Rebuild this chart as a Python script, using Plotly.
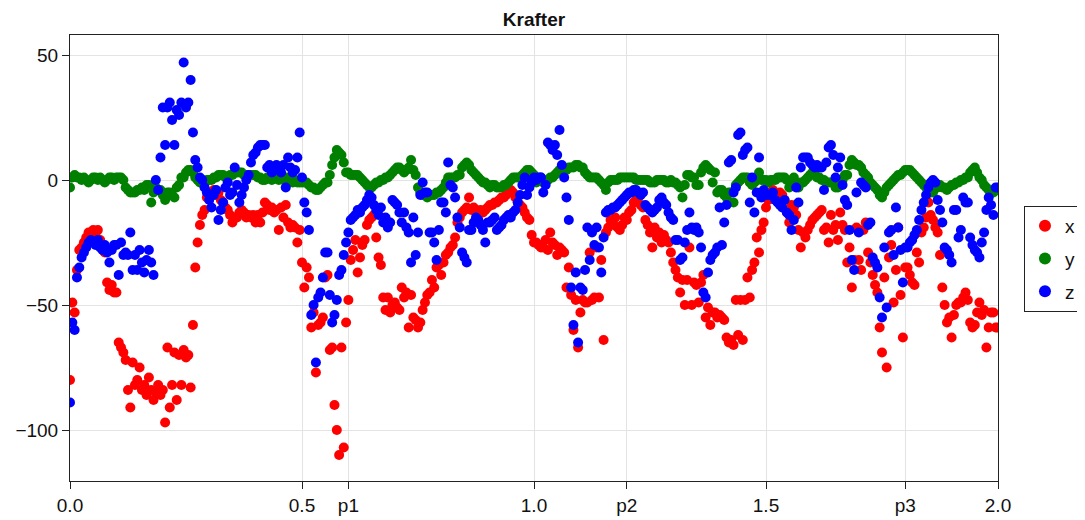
import numpy as np
import plotly.graph_objects as go

# time axis: 401 samples from 0 to 2
t = np.linspace(0.0, 2.0, 401)

fx = [
    -80,-49,-53,-36,-28,-27,-25,-23,-21,-21,-20,-22,-20,-24,-26,-29,-41,-44,-42,-45,
    -45,-65,-67,-69,-72,-84,-91,-73,-82,-80,-75,-84,-82,-86,-79,-84,-88,-85,-82,-86,
    -84,-97,-67,-91,-82,-69,-88,-70,-82,-68,-71,-70,-83,-58,-35,-25,-18,-14,-12,-7,
    -5,-5,-4,-6,-5,-8,-9,-11,-12,-14,-17,-15,-15,-13,-12,-13,-15,-14,-15,-14,
    -17,-14,-17,-13,-9,-10,-12,-11,-13,-12,-20,-11,-15,-10,-17,-19,-18,-19,-25,-20,
    -33,-43,-35,-39,-59,-53,-77,-58,-57,-55,-39,-38,-68,-67,-90,-100,-110,-67,-107,-57,
    -48,-32,-28,-24,-37,-31,-26,-24,-18,-16,-15,-14,-23,-31,-34,-47,-52,-47,-53,-50,
    -49,-51,-52,-43,-47,-45,-59,-46,-55,-56,-59,-57,-52,-49,-46,-45,-40,-43,-35,-34,
    -38,-33,-30,-29,-27,-26,-23,-17,-15,-13,-12,-11,-7,-12,-11,-12,-13,-12,-13,-12,
    -11,-10,-10,-9,-9,-8,-7,-7,-6,-5,-4,-5,-7,-9,-10,-11,-13,-15,-16,-22,
    -25,-25,-26,-27,-27,-24,-28,-21,-25,-26,-30,-27,-28,-29,-43,-35,-46,-60,-48,-67,
    -53,-48,-49,-49,-29,-48,-47,-27,-47,-32,-64,-21,-19,-16,-17,-15,-19,-20,-18,-15,
    -16,-13,-12,-9,-8,-7,-10,-11,-16,-18,-21,-27,-19,-23,-21,-25,-22,-24,-25,-29,
    -33,-36,-39,-45,-40,-50,-40,-27,-50,-41,-42,-49,-41,-38,-55,-51,-58,-53,-53,-55,
    -54,-55,-56,-63,-65,-64,-66,-48,-62,-48,-64,-48,-39,-47,-36,-33,-23,-29,-20,-17,
    -11,-8,-5,-4,-6,-7,-5,-6,-8,-13,-17,-10,-11,-14,-20,-27,-21,-23,-20,-18,
    -16,-15,-14,-13,-12,-20,-19,-25,-14,-20,-18,-24,-13,-18,-20,-33,-27,-43,-32,-19,
    -32,-36,-20,-17,-29,-33,-38,-42,-45,-59,-69,-39,-75,-31,-26,-49,-36,-19,-46,-63,
    -35,-35,-38,-41,-42,-29,-33,-21,-19,-15,-9,-14,-16,-19,-21,-30,-43,-50,-57,-55,
    -63,-54,-50,-49,-49,-47,-45,-48,-57,-59,-58,-53,-49,-54,-52,-67,-59,-53,-53,-59,
    -59,
]

fy = [
    -3,1,2,1,1,0,1,0,-1,0,1,1,0,1,0,-1,0,1,1,0,
    1,1,1,0,-3,-4,-5,-5,-5,-4,-4,-3,-4,-2,-2,-9,-5,-3,-4,-4,
    -6,-8,-5,-5,-6,-7,-3,-2,1,1,3,4,4,3,1,0,-1,-1,-1,0,
    0,0,1,1,2,2,2,1,1,2,2,3,3,3,3,2,2,2,2,2,
    2,1,1,0,0,1,1,0,1,1,0,1,0,1,0,0,-1,0,-1,-1,
    -1,-1,-1,-2,-3,-3,-4,-4,-3,-2,-1,-1,2,6,9,12,11,10,7,3,
    3,2,2,2,2,1,0,-1,-2,-3,-3,-2,-1,-1,0,0,1,1,2,3,
    4,5,5,4,3,4,5,8,4,2,-3,-5,-6,-6,-7,-6,-6,-6,-5,-5,
    -4,-3,-1,1,1,1,1,2,2,5,6,7,6,4,3,2,1,0,-1,-1,
    -2,-3,-2,-2,-3,-3,-3,-2,-2,-1,0,1,1,1,1,2,3,4,4,3,
    2,-1,0,1,-1,-1,0,1,1,2,3,4,4,4,4,5,5,5,6,6,
    5,5,3,2,1,1,1,1,0,-1,-2,-4,-1,0,0,0,0,1,1,1,
    1,1,1,1,0,0,0,0,0,0,-1,-1,-1,0,0,0,0,-1,-1,0,
    -1,-1,-2,-3,-7,-2,2,2,1,1,-2,-2,3,5,6,5,4,-1,3,-5,
    -4,-4,-6,-7,-5,-5,-9,-2,-1,0,1,1,1,-1,-2,-1,0,3,0,0,
    0,-1,0,0,0,1,1,1,1,0,-3,-1,1,-2,-3,-1,-1,0,1,2,
    3,2,1,1,0,0,-1,-1,-1,-1,-3,-3,-1,0,2,2,6,8,7,6,
    6,5,3,2,1,-1,-2,-3,-4,-6,-7,-5,-3,-2,-1,0,1,2,2,3,
    4,4,4,3,2,1,0,-1,-2,-3,-4,-5,-5,-3,-3,-2,-3,-3,-4,-3,
    -2,-2,-1,-1,0,0,1,1,3,4,5,3,1,0,-2,-3,-4,-5,-5,-4,
    -4,
]

fz = [
    -89,-57,-60,-39,-35,-31,-29,-27,-25,-24,-25,-26,-24,-27,-28,-26,-29,-33,-28,-26,
    -26,-38,-25,-30,-29,-30,-21,-36,-30,-36,-28,-33,-37,-32,-28,-33,-38,0,-4,9,
    29,14,29,31,24,14,28,26,31,47,29,31,40,19,8,5,1,0,-3,-5,
    -8,-11,-6,-4,-16,-12,-9,-3,-1,-6,-5,5,-2,-9,-6,-3,0,2,7,10,
    11,13,14,14,14,5,6,3,4,6,4,3,6,-3,9,5,3,4,9,19,
    1,-9,-13,-20,-54,-50,-73,-47,-45,-39,-29,-29,-46,-57,-54,-48,-38,-36,-30,-25,
    -21,-16,-15,-14,-12,-13,-11,-10,-8,-6,-7,-10,-12,-14,-11,-17,-15,-19,-17,-8,
    -9,-10,-13,-17,-13,-19,-21,-33,-15,-30,-21,-6,-1,-5,-5,-21,-21,-25,-32,-20,
    -9,-9,-13,7,-2,-3,-7,-15,-19,-29,-31,-33,-20,-20,-17,-15,-16,-18,-20,-25,
    -17,-17,-16,-15,-20,-19,-18,-16,-15,-14,-15,-13,-12,-9,-6,-2,1,-6,-3,-1,
    1,0,1,1,-5,-2,15,14,12,14,10,20,6,1,-7,-16,-43,-58,-37,-65,
    -43,-44,-36,-19,-32,-21,-26,-19,-27,-37,-23,-13,-12,-12,-11,-11,-10,-9,-8,-7,
    -6,-5,-5,-4,-4,-5,-6,-5,-10,-11,-12,-13,-12,-11,-8,-7,-9,-10,-13,-15,
    -16,-24,-24,-32,-31,-25,-20,-13,-19,-20,-19,-21,-27,-45,-47,-37,-32,-30,-29,-27,
    -11,-26,-17,-10,7,8,-5,-3,18,19,10,12,13,-9,1,-13,-5,9,-7,-4,
    -6,-6,-6,-5,-8,-9,-10,-11,-8,-13,-14,-20,-16,-3,-9,5,9,9,9,7,
    6,5,6,5,5,-4,7,13,14,10,1,5,9,-2,-8,-10,-20,-32,-36,-5,
    -21,-1,-2,-3,-18,-17,-31,-33,-35,-47,-55,-27,-51,-21,-20,-30,-11,-19,-28,-41,
    -27,-27,-25,-24,-22,-20,-16,-12,-9,-6,-3,-1,0,-1,-8,-12,-17,-27,-28,-30,
    -33,-12,-12,-23,-20,-7,-9,-9,-23,-26,-28,-29,-31,-25,-21,-12,-7,-10,-14,-3,
    -3,
]

series_names = ["x", "y", "z"]
series_colors = ["#ff0000", "#008000", "#0000ff"]

x_tickvals = [0.0, 0.5, 0.6, 1.0, 1.2, 1.5, 1.8, 2.0]
x_ticktext = ["0.0", "0.5", "p1", "1.0", "p2", "1.5", "p3", "2.0"]
y_tickvals = [-100, -50, 0, 50]
y_ticktext = ["\u2212100", "\u221250", "0", "50"]

FONT = "Liberation Sans, Arial, Helvetica, sans-serif"

fig = go.Figure()
for name, vals, col in zip(series_names, [fx, fy, fz], series_colors):
    fig.add_trace(go.Scatter(
        x=t, y=vals, mode="markers", name=name, legendgroup=name,
        marker=dict(color=col, size=10, line=dict(width=0)),
    ))

axis_common = dict(
    showline=True, linecolor="#222", linewidth=1, mirror=True,
    showgrid=True, gridcolor="#e3e3e3", gridwidth=1,
    ticks="outside", ticklen=7, tickcolor="#222", tickwidth=1,
    zeroline=False, tickfont=dict(family=FONT, size=19, color="#111"),
)

fig.update_xaxes(range=[0, 2], tickmode="array", tickvals=x_tickvals,
                 ticktext=x_ticktext, **axis_common)
fig.update_yaxes(range=[-120.4, 58], tickmode="array", tickvals=y_tickvals,
                 ticktext=y_ticktext, **axis_common)

# the page body adds an 8px offset, so the figure is sized/margined to compensate
W, H = 1077, 512
fig.update_layout(
    width=W, height=H,
    margin=dict(l=62, r=W - 62 - 928, t=27, b=H - 27 - 446, autoexpand=False),
    paper_bgcolor="white", plot_bgcolor="white",
    title=dict(text="<b>Krafter</b>", x=0.5, xref="paper", xanchor="center",
               y=1 - 11 / H, yref="container", yanchor="middle",
               font=dict(family=FONT, size=19, color="#111")),
    legend=dict(x=1.028, y=0.498, xanchor="left", yanchor="middle",
                xref="paper", yref="paper",
                bordercolor="#222", borderwidth=1, bgcolor="white",
                font=dict(family=FONT, size=19, color="#111"),
                tracegroupgap=5, itemsizing="constant"),
    showlegend=True,
)

fig.write_html("out.html")
